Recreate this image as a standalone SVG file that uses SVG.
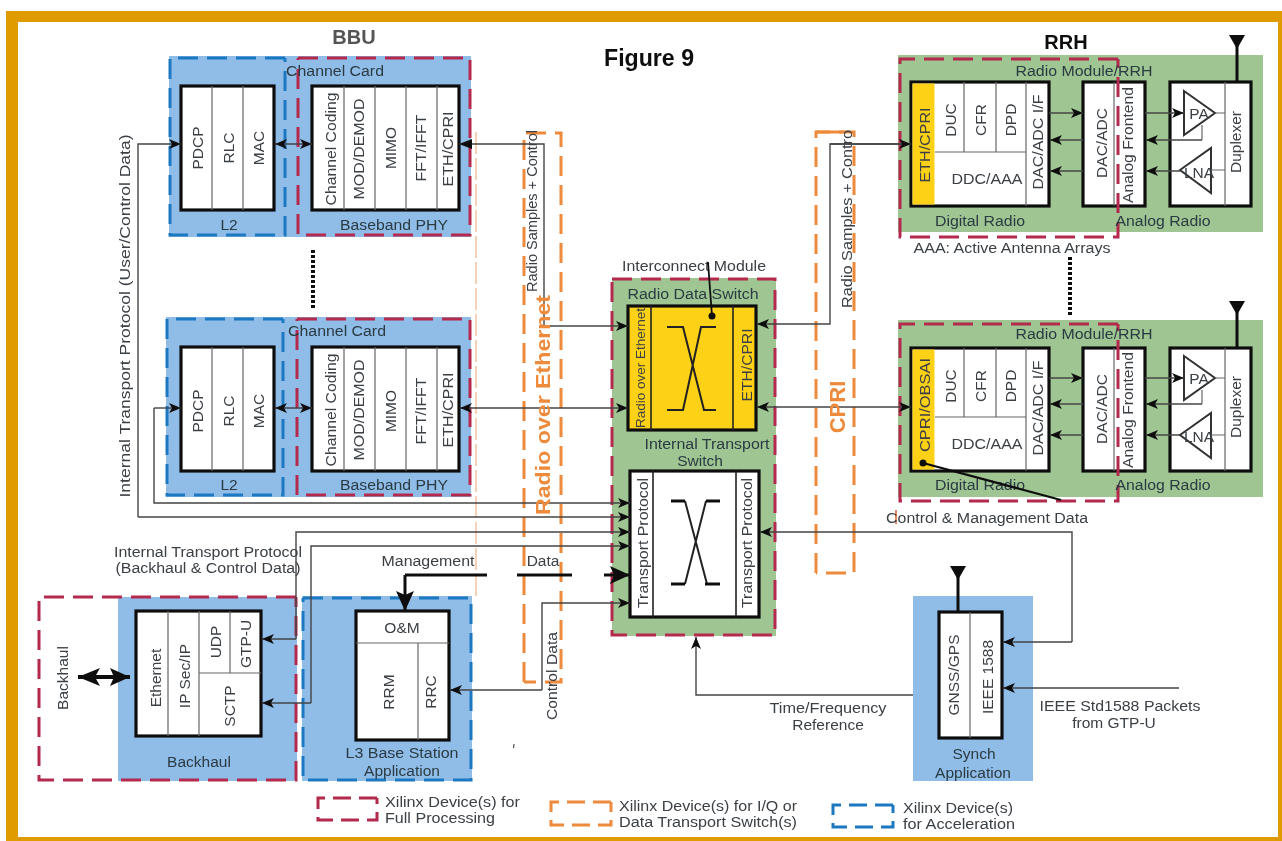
<svg xmlns="http://www.w3.org/2000/svg" width="1282" height="841" viewBox="0 0 1282 841">
<style>
text{font-family:"Liberation Sans",Arial,sans-serif;font-size:15.5px;fill:#3a3f44;dominant-baseline:central;text-anchor:middle}
.s{text-anchor:start}
.dk{fill:#2b3a42}
.blue{fill:#8fbde8}
.green{fill:#9ec592}
.box{fill:#fff;stroke:#111;stroke-width:3.2}
.yel{fill:#fdd116}
.div{stroke:#666;stroke-width:1.2;fill:none}
.divk{stroke:#222;stroke-width:1.6;fill:none}
.rd{fill:none;stroke:#b3294e;stroke-width:3;stroke-dasharray:20 9}
.bd{fill:none;stroke:#1f78c1;stroke-width:3;stroke-dasharray:20 9}
.od{fill:none;stroke:#ee8a3a;stroke-width:3;stroke-dasharray:20 9}
.c{fill:none;stroke:#444;stroke-width:1.4}
.a{marker-end:url(#ah)}
.aa{marker-end:url(#ah);marker-start:url(#ahs)}
.x{fill:none;stroke:#222;stroke-width:2}
.xb{fill:none;stroke:#111;stroke-width:3}
.tri{fill:none;stroke:#333;stroke-width:2}
.ant{stroke:#111;stroke-width:3;fill:none}
</style>
<defs>
<filter id="soft" x="0" y="0" width="100%" height="100%"><feGaussianBlur stdDeviation="0.45"/></filter>
<marker id="ah" markerUnits="userSpaceOnUse" markerWidth="13" markerHeight="10" refX="12" refY="5" orient="auto"><path d="M0 0L12 5L0 10L3 5Z" fill="#111"/></marker>
<marker id="ahs" markerUnits="userSpaceOnUse" markerWidth="13" markerHeight="10" refX="1" refY="5" orient="auto"><path d="M13 0L1 5L13 10L10 5Z" fill="#111"/></marker>
<marker id="big" markerUnits="userSpaceOnUse" markerWidth="22" markerHeight="20" refX="20" refY="9" orient="auto"><path d="M0 0L20 9L0 18L4 9Z" fill="#111"/></marker>
<marker id="bigs" markerUnits="userSpaceOnUse" markerWidth="26" markerHeight="20" refX="2" refY="9" orient="auto"><path d="M24 0L2 9L24 18L19 9Z" fill="#111"/></marker>
</defs>
<g filter="url(#soft)">
<rect id="frame-bg" width="1282" height="841" fill="#fff"/>
<path id="frame" fill="#e09b00" fill-rule="evenodd" d="M6 11H1282V841H6ZM18 22V837H1278V22Z"/>

<g id="titles">
<text x="354" y="37" style="font-size:20px;font-weight:bold;fill:#555">BBU</text>
<text x="1066" y="42" style="font-size:20px;font-weight:bold;fill:#111">RRH</text>
<text x="649" y="57" style="font-size:24px;font-weight:bold;fill:#111" textLength="90" lengthAdjust="spacingAndGlyphs">Figure 9</text>
</g>

<g id="transport-bands">
<path d="M476 132V600" stroke="#f5d2b8" stroke-width="2" stroke-dasharray="22 4" fill="none"/>
<path class="od" d="M524 682V133H561V682H524"/>
<path class="od" d="M816 573V132H854V573H816"/>
<path d="M816 132H845" stroke="#ee8a3a" stroke-width="3" fill="none"/>
</g>

<g id="bbu-card-1">
<rect class="blue" x="169" y="56" width="302" height="181"/>
<path class="bd" d="M285 58H170V235H285V58"/>
<path class="rd" d="M298 58H470V235H298V58"/>
<rect class="box" x="181" y="86" width="93" height="124"/>
<path class="div" d="M212 86V210M243 86V210"/>
<rect class="box" x="312" y="86" width="147" height="124"/>
<path class="div" d="M344 86V210M375 86V210M406 86V210M437 86V210"/>
<text transform="translate(197,148) rotate(-90)">PDCP</text>
<text transform="translate(228,148) rotate(-90)">RLC</text>
<text transform="translate(258,148) rotate(-90)">MAC</text>
<text transform="translate(330,149) rotate(-90)" textLength="113" lengthAdjust="spacingAndGlyphs">Channel Coding</text>
<text transform="translate(358,149) rotate(-90)" textLength="101" lengthAdjust="spacingAndGlyphs">MOD/DEMOD</text>
<text transform="translate(390,148) rotate(-90)">MIMO</text>
<text transform="translate(420,148) rotate(-90)" textLength="67" lengthAdjust="spacingAndGlyphs">FFT/IFFT</text>
<text transform="translate(447,149) rotate(-90)" textLength="75" lengthAdjust="spacingAndGlyphs">ETH/CPRI</text>
<text class="dk" x="335" y="70" textLength="98" lengthAdjust="spacingAndGlyphs">Channel Card</text>
<text class="dk" x="229" y="224">L2</text>
<text class="dk" x="394" y="224" textLength="108" lengthAdjust="spacingAndGlyphs">Baseband PHY</text>
</g>

<g id="bbu-card-2">
<rect class="blue" x="166" y="317" width="305" height="180"/>
<path class="bd" d="M283 319H167V495H283V319"/>
<path class="rd" d="M297 319H470V495H297V319"/>
<rect class="box" x="181" y="347" width="93" height="124"/>
<path class="div" d="M212 347V471M243 347V471"/>
<rect class="box" x="312" y="347" width="147" height="124"/>
<path class="div" d="M344 347V471M375 347V471M406 347V471M437 347V471"/>
<text transform="translate(197,411) rotate(-90)">PDCP</text>
<text transform="translate(228,411) rotate(-90)">RLC</text>
<text transform="translate(258,411) rotate(-90)">MAC</text>
<text transform="translate(330,410) rotate(-90)" textLength="113" lengthAdjust="spacingAndGlyphs">Channel Coding</text>
<text transform="translate(358,410) rotate(-90)" textLength="101" lengthAdjust="spacingAndGlyphs">MOD/DEMOD</text>
<text transform="translate(390,411) rotate(-90)">MIMO</text>
<text transform="translate(420,411) rotate(-90)" textLength="67" lengthAdjust="spacingAndGlyphs">FFT/IFFT</text>
<text transform="translate(447,410) rotate(-90)" textLength="75" lengthAdjust="spacingAndGlyphs">ETH/CPRI</text>
<text class="dk" x="337" y="330" textLength="98" lengthAdjust="spacingAndGlyphs">Channel Card</text>
<text class="dk" x="229" y="484">L2</text>
<text class="dk" x="394" y="484" textLength="108" lengthAdjust="spacingAndGlyphs">Baseband PHY</text>
</g>

<g id="dots">
<path d="M313 250V310M1070 257V316" stroke="#111" stroke-width="4" stroke-dasharray="3 2" fill="none"/>
</g>

<g id="interconnect-module">
<rect class="green" x="612" y="278" width="164" height="358"/>
<path class="rd" d="M612 279H775V635H612V279"/>
<rect class="box" x="628" y="306" width="128" height="124" style="fill:#fdd116"/>
<path class="divk" d="M651 306V430M733 306V430"/>
<path class="x" d="M667 327H683L704 410H716M716 327H701L683 410H667"/>
<rect class="box" x="630" y="471" width="129" height="146"/>
<path class="divk" d="M653 471V617M736 471V617"/>
<path class="x" d="M685 501L707 584M706 501L685 584"/>
<path class="xb" d="M671 501H685M706 501H720M671 584H685M705 584H720"/>
<text transform="translate(640,368) rotate(-90)" style="font-size:13px" textLength="120" lengthAdjust="spacingAndGlyphs">Radio over Ethernet</text>
<text transform="translate(746,365) rotate(-90)" textLength="73" lengthAdjust="spacingAndGlyphs">ETH/CPRI</text>
<text transform="translate(642,543) rotate(-90)" textLength="130" lengthAdjust="spacingAndGlyphs">Transport Protocol</text>
<text transform="translate(746,543) rotate(-90)" textLength="130" lengthAdjust="spacingAndGlyphs">Transport Protocol</text>
<text x="694" y="265" textLength="144" lengthAdjust="spacingAndGlyphs">Interconnect Module</text>
<text class="dk" x="693" y="293" textLength="131" lengthAdjust="spacingAndGlyphs">Radio Data Switch</text>
<text class="dk" x="707" y="443" textLength="125" lengthAdjust="spacingAndGlyphs">Internal Transport</text>
<text class="dk" x="700" y="460">Switch</text>
</g>

<g id="rrh-1">
<rect class="green" x="898" y="55" width="365" height="177"/>
<rect class="box" x="911" y="82" width="138" height="124"/>
<rect class="yel" x="912.5" y="83.5" width="22" height="121"/>
<path class="div" d="M935 152H1026M964 82V152M996 82V152M1026 82V206"/>
<rect class="box" x="1083" y="82" width="62" height="124"/>
<path class="div" d="M1114 82V206"/>
<rect class="box" x="1170" y="82" width="81" height="124"/>
<path class="div" d="M1225 82V206"/>
<path class="tri" d="M1184 91L1215 113L1184 135Z"/>
<path class="tri" d="M1180 170L1211 148V193Z"/>
<path class="div" d="M1215 113H1225M1211 170H1225M1202 140V125"/>
<path class="rd" d="M1118 59H900V237H1118V59"/>
<path class="ant" d="M1237 82V44"/><path d="M1229 35H1245L1237 49Z" fill="#111"/>
<text transform="translate(924,145) rotate(-90)" textLength="75" lengthAdjust="spacingAndGlyphs">ETH/CPRI</text>
<text transform="translate(950,120) rotate(-90)">DUC</text>
<text transform="translate(980,120) rotate(-90)">CFR</text>
<text transform="translate(1010,120) rotate(-90)">DPD</text>
<text x="987" y="178" textLength="71" lengthAdjust="spacingAndGlyphs">DDC/AAA</text>
<text transform="translate(1037,142) rotate(-90)" textLength="95" lengthAdjust="spacingAndGlyphs">DAC/ADC I/F</text>
<text transform="translate(1101,143) rotate(-90)">DAC/ADC</text>
<text transform="translate(1127,145) rotate(-90)" textLength="116" lengthAdjust="spacingAndGlyphs">Analog Frontend</text>
<text transform="translate(1235,142) rotate(-90)">Duplexer</text>
<text x="1199" y="113">PA</text>
<text x="1199" y="172">LNA</text>
<text class="dk" x="1084" y="70" textLength="137" lengthAdjust="spacingAndGlyphs">Radio Module/RRH</text>
<text class="dk" x="980" y="220" textLength="90" lengthAdjust="spacingAndGlyphs">Digital Radio</text>
<text class="dk" x="1163" y="220" textLength="95" lengthAdjust="spacingAndGlyphs">Analog Radio</text>
<text x="1012" y="247" textLength="197" lengthAdjust="spacingAndGlyphs">AAA: Active Antenna Arrays</text>
</g>

<g id="rrh-2">
<rect class="green" x="898" y="320" width="365" height="177"/>
<rect class="box" x="911" y="348" width="138" height="123"/>
<rect class="yel" x="912.5" y="349.5" width="22" height="120"/>
<path class="div" d="M935 417H1026M964 348V417M996 348V417M1026 348V471"/>
<rect class="box" x="1083" y="348" width="62" height="123"/>
<path class="div" d="M1114 348V471"/>
<rect class="box" x="1170" y="348" width="81" height="123"/>
<path class="div" d="M1225 348V471"/>
<path class="tri" d="M1184 356L1215 378L1184 400Z"/>
<path class="tri" d="M1180 435L1211 413V458Z"/>
<path class="div" d="M1215 378H1225M1211 435H1225M1202 404V390"/>
<path class="rd" d="M1118 324H900V501H1118V324"/>
<path class="ant" d="M1237 348V309"/><path d="M1229 301H1245L1237 315Z" fill="#111"/>
<text transform="translate(924,405) rotate(-90)" textLength="94" lengthAdjust="spacingAndGlyphs">CPRI/OBSAI</text>
<text transform="translate(950,386) rotate(-90)">DUC</text>
<text transform="translate(980,386) rotate(-90)">CFR</text>
<text transform="translate(1010,386) rotate(-90)">DPD</text>
<text x="987" y="443" textLength="71" lengthAdjust="spacingAndGlyphs">DDC/AAA</text>
<text transform="translate(1037,408) rotate(-90)" textLength="95" lengthAdjust="spacingAndGlyphs">DAC/ADC I/F</text>
<text transform="translate(1101,409) rotate(-90)">DAC/ADC</text>
<text transform="translate(1127,410) rotate(-90)" textLength="116" lengthAdjust="spacingAndGlyphs">Analog Frontend</text>
<text transform="translate(1235,407) rotate(-90)">Duplexer</text>
<text x="1199" y="378">PA</text>
<text x="1199" y="436">LNA</text>
<text class="dk" x="1084" y="333" textLength="137" lengthAdjust="spacingAndGlyphs">Radio Module/RRH</text>
<text class="dk" x="980" y="484" textLength="90" lengthAdjust="spacingAndGlyphs">Digital Radio</text>
<text class="dk" x="1163" y="484" textLength="95" lengthAdjust="spacingAndGlyphs">Analog Radio</text>
</g>

<g id="backhaul">
<rect class="blue" x="118" y="597" width="179" height="184"/>
<path class="rd" d="M296 597H39V780H296V597"/>
<rect class="box" x="136" y="611" width="125" height="125"/>
<path class="div" d="M168 611V736M199 611V736M230 611V673M199 673H261"/>
<text transform="translate(155,678) rotate(-90)">Ethernet</text>
<text transform="translate(184,676) rotate(-90)">IP Sec/IP</text>
<text transform="translate(215,642) rotate(-90)">UDP</text>
<text transform="translate(245,644) rotate(-90)">GTP-U</text>
<text transform="translate(229,706) rotate(-90)">SCTP</text>
<text transform="translate(62,678) rotate(-90)">Backhaul</text>
<text class="dk" x="199" y="761">Backhaul</text>
</g>

<g id="l3-application">
<rect class="blue" x="302" y="596" width="170" height="185"/>
<path class="bd" d="M303 598H471V780H303V598"/>
<rect class="box" x="356" y="611" width="93" height="129"/>
<path class="div" d="M356 643H449M418 643V740"/>
<text x="402" y="627">O&amp;M</text>
<text transform="translate(388,692) rotate(-90)">RRM</text>
<text transform="translate(430,692) rotate(-90)">RRC</text>
<text class="dk" x="402" y="752" textLength="113" lengthAdjust="spacingAndGlyphs">L3 Base Station</text>
<text class="dk" x="402" y="770">Application</text>
</g>

<g id="synch-application">
<rect class="blue" x="913" y="596" width="120" height="185"/>
<rect class="box" x="939" y="612" width="63" height="126"/>
<path class="div" d="M970 612V738"/>
<path class="ant" d="M958 612V574"/><path d="M950 566H966L958 580Z" fill="#111"/>
<text transform="translate(953,675) rotate(-90)">GNSS/GPS</text>
<text transform="translate(987,677) rotate(-90)">IEEE 1588</text>
<text class="dk" x="974" y="753">Synch</text>
<text class="dk" x="973" y="772">Application</text>
</g>

<g id="connectors">
<path class="c a" d="M138 517V144H181"/>
<path class="c aa" d="M275 144H312"/>
<path class="c" d="M459 144H544V325"/>
<path d="M459 144L472 139V149Z" fill="#111"/>
<path class="c a" d="M544 326H628"/>
<path class="c a" d="M154 408H181"/>
<path class="c aa" d="M275 408H312"/>
<path class="c aa" d="M460 408H628"/>
<path class="c a" d="M154 408V503H630"/>
<path class="c a" d="M138 517H630"/>
<path class="c a" d="M296 639V532H630"/>
<path class="c a" d="M311 703V546H630"/>
<path class="c a" d="M296 639H262"/>
<path class="c a" d="M311 703H262"/>
<path class="c a" d="M542 690V603H630"/>
<path class="c a" d="M542 690H450"/>
<path d="M405 575H487M517 575H572" stroke="#111" stroke-width="3" fill="none"/>
<path d="M604 575H630" stroke="#111" stroke-width="3" fill="none" marker-end="url(#big)"/>
<path d="M405 575V611" stroke="#111" stroke-width="3" fill="none" marker-end="url(#big)"/>
<path d="M78 677H130" stroke="#111" stroke-width="4" fill="none" marker-start="url(#bigs)" marker-end="url(#big)"/>
<path class="c a" d="M911 144H830V324H757"/>
<path class="c a" d="M830 144H911"/>
<path class="c aa" d="M757 407H911"/>
<path class="c a" d="M1049 113H1083"/>
<path class="c a" d="M1083 140H1050"/>
<path class="c a" d="M1083 171H1050"/>
<path class="c a" d="M1145 113H1184"/>
<path class="c a" d="M1202 140H1146"/>
<path class="c a" d="M1180 171H1146"/>
<path class="c a" d="M1049 378H1083"/>
<path class="c a" d="M1083 404H1050"/>
<path class="c a" d="M1083 435H1050"/>
<path class="c a" d="M1145 378H1184"/>
<path class="c a" d="M1202 404H1146"/>
<path class="c a" d="M1180 435H1146"/>
<path class="c a" d="M1072 642V532H760"/>
<path class="c a" d="M1072 642H1003"/>
<path class="c a" d="M1179 688H1003"/>
<path class="c a" d="M913 695H696V637"/>
<path d="M712 316L708 262" stroke="#111" stroke-width="1.8" fill="none"/>
<circle cx="712" cy="316" r="3.5" fill="#111"/>
<path d="M923 463L1061 500" stroke="#111" stroke-width="2.2" fill="none"/>
<circle cx="923" cy="463" r="3.5" fill="#111"/>
<path d="M514 744L513.5 748" stroke="#555" stroke-width="1.2" fill="none"/>
<path d="M896 510V524" stroke="#d9622b" stroke-width="1.5" fill="none"/>
</g>

<g id="connector-labels">
<text transform="translate(124,316) rotate(-90)" textLength="363" lengthAdjust="spacingAndGlyphs">Internal Transport Protocol (User/Control Data)</text>
<text transform="translate(531,211) rotate(-90)" textLength="162" lengthAdjust="spacingAndGlyphs">Radio Samples + Control</text>
<text transform="translate(846,219) rotate(-90)" textLength="178" lengthAdjust="spacingAndGlyphs">Radio Samples + Contro</text>
<text transform="translate(543,405) rotate(-90)" style="font-size:20px;font-weight:bold;fill:#ee8a3a" textLength="220" lengthAdjust="spacingAndGlyphs">Radio over Ethernet</text>
<text transform="translate(837,407) rotate(-90)" style="font-size:22px;font-weight:bold;fill:#ee8a3a">CPRI</text>
<text x="208" y="552" style="font-size:14px" textLength="188" lengthAdjust="spacingAndGlyphs">Internal Transport Protocol</text>
<text x="208" y="568" style="font-size:14px" textLength="185" lengthAdjust="spacingAndGlyphs">(Backhaul &amp; Control Data)</text>
<text x="428" y="560" textLength="93" lengthAdjust="spacingAndGlyphs">Management</text>
<text x="543" y="560">Data</text>
<text transform="translate(551,676) rotate(-90)" textLength="88" lengthAdjust="spacingAndGlyphs">Control Data</text>
<text x="987" y="517" textLength="202" lengthAdjust="spacingAndGlyphs">Control &amp; Management Data</text>
<text x="828" y="707" textLength="117" lengthAdjust="spacingAndGlyphs">Time/Frequency</text>
<text x="828" y="724">Reference</text>
<text x="1120" y="705" textLength="161" lengthAdjust="spacingAndGlyphs">IEEE Std1588 Packets</text>
<text x="1114" y="722">from GTP-U</text>
</g>

<g id="legend">
<path class="rd" style="stroke-dasharray:18 8" d="M377 798H318V820H377V798"/>
<text class="s" x="385" y="801" textLength="135" lengthAdjust="spacingAndGlyphs">Xilinx Device(s) for</text>
<text class="s" x="385" y="817" textLength="110" lengthAdjust="spacingAndGlyphs">Full Processing</text>
<path class="od" style="stroke-dasharray:18 8" d="M611 802H551V825H611V802"/>
<text class="s" x="619" y="805" textLength="178" lengthAdjust="spacingAndGlyphs">Xilinx Device(s) for I/Q or</text>
<text class="s" x="619" y="821" textLength="178" lengthAdjust="spacingAndGlyphs">Data Transport Switch(s)</text>
<path class="bd" style="stroke-dasharray:18 8" d="M893 805H833V827H893V805"/>
<text class="s" x="903" y="807" textLength="110" lengthAdjust="spacingAndGlyphs">Xilinx Device(s)</text>
<text class="s" x="903" y="823" textLength="112" lengthAdjust="spacingAndGlyphs">for Acceleration</text>
</g>
</g>
</svg>
